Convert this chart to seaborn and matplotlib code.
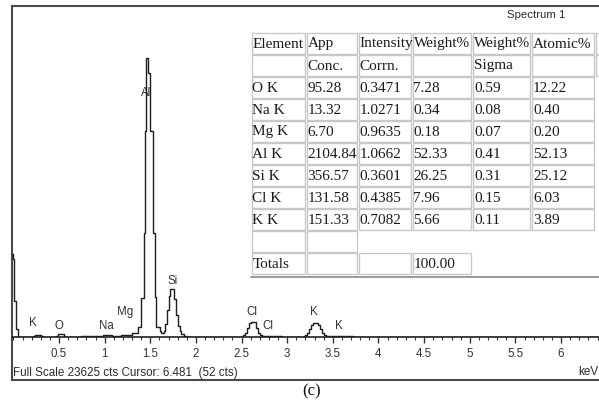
import matplotlib
matplotlib.use("Agg")
import matplotlib.pyplot as plt
from matplotlib.patches import Rectangle
from matplotlib.lines import Line2D
from matplotlib.ticker import FixedLocator, MultipleLocator, FormatStrFormatter
import seaborn as sns

zero_kev = [-0.02, 0.0, 0.01, 0.025, 0.05]
zero_cts = [5940, 5580, 2580, 570, 0]
low_kev = [0.22, 0.24, 0.30, 0.32, 0.47, 0.49, 0.55, 0.57, 0.74, 0.98, 1.00, 1.06, 1.08, 1.18, 1.24, 1.30, 1.34]
low_cts = [70, 150, 70, 0, 90, 180, 90, 0, 60, 110, 170, 110, 80, 120, 170, 250, 320]
al_kev = [1.365, 1.398, 1.428, 1.442, 1.453, 1.475, 1.497, 1.530, 1.548, 1.562, 1.606, 1.622]
al_cts = [714, 2785, 7426, 14700, 19920, 18850, 14700, 7426, 2856, 714, 430, 290]
si_kev = [1.645, 1.66, 1.68, 1.70, 1.72, 1.74, 1.76, 1.78, 1.80, 1.82, 1.84, 1.87, 1.90]
si_cts = [430, 900, 1900, 2900, 3430, 3430, 2700, 1600, 800, 400, 200, 80, 0]
cl_kev = [2.52, 2.54, 2.56, 2.58, 2.60, 2.62, 2.64, 2.66, 2.68, 2.70, 2.72, 2.94]
cl_cts = [140, 290, 640, 1000, 1090, 1090, 1050, 640, 290, 140, 70, 0]
k_kev = [3.18, 3.20, 3.22, 3.24, 3.26, 3.28, 3.30, 3.32, 3.34, 3.36, 3.38, 3.40, 3.42, 3.44, 3.72, 6.45]
k_cts = [70, 140, 290, 570, 860, 1000, 1000, 1000, 860, 570, 290, 140, 70, 50, 0, 0]

full_scale = 23625
major_ticks = [0.5, 1, 1.5, 2, 2.5, 3, 3.5, 4, 4.5, 5, 5.5, 6]

peak_labels = ["K", "O", "Na", "Mg", "Al", "Si", "Cl", "Cl", "K", "K"]
label_kev = [0.215, 0.50, 1.015, 1.223, 1.45, 1.745, 2.611, 2.793, 3.293, 3.567]
label_cts = [1020, 785, 785, 1790, 17400, 4020, 1790, 785, 1790, 785]

# quantification table
header = ["Element", "App", "Intensity", "Weight%", "Weight%", "Atomic%", ""]
subheader = ["", "Conc.", "Corrn.", "", "Sigma", "", ""]
elements = ["O K", "Na K", "Mg K", "Al K", "Si K", "Cl K", "K K"]
app_conc = [95.28, 13.32, 6.70, 2104.84, 356.57, 131.58, 151.33]
intensity_corrn = [0.3471, 1.0271, 0.9635, 1.0662, 0.3601, 0.4385, 0.7082]
weight_pct = [7.28, 0.34, 0.18, 52.33, 26.25, 7.96, 5.66]
weight_sigma = [0.59, 0.08, 0.07, 0.41, 0.31, 0.15, 0.11]
atomic_pct = [12.22, 0.40, 0.20, 52.13, 25.12, 6.03, 3.89]
total_weight = 100.00

W, H = 599, 408
sns.set_theme(style="white")
plt.rcParams['font.family'] = ['Liberation Sans', 'DejaVu Sans']
serif = ["Liberation Serif", "DejaVu Serif"]


def fx(x):
    return x / W


def fy(y):
    return 1 - y / H


fig = plt.figure(figsize=(W / 100, H / 100), dpi=100)
fig.patch.set_facecolor("white")

# outer frame of the screenshot
frame = fig.add_axes([fx(12.3), fy(380), 1.0, fy(6) - fy(380)])
frame.set_xticks([])
frame.set_yticks([])
frame.patch.set_alpha(0)
for s in ["left", "top", "bottom"]:
    frame.spines[s].set_color("#4a4a4a")
    frame.spines[s].set_linewidth(1.5)
frame.spines["right"].set_visible(False)

# spectrum axes
ax = fig.add_axes([fx(12.3), fy(337), fx(599) - fx(12.3), fy(6) - fy(337)])
ax.patch.set_alpha(0)
kev = zero_kev + low_kev + al_kev + si_kev + cl_kev + k_kev
cts = zero_cts + low_cts + al_cts + si_cts + cl_cts + k_cts
sns.lineplot(x=kev, y=cts, ax=ax, estimator=None, sort=False,
             drawstyle="steps-post", color="#1e1e1e", linewidth=1.0, zorder=3)
for s in ["left", "top", "right"]:
    ax.spines[s].set_visible(False)
ax.spines["bottom"].set_color("#222222")
ax.spines["bottom"].set_linewidth(1.2)
ax.set_yticks([])
ax.xaxis.set_major_locator(FixedLocator(major_ticks))
ax.xaxis.set_minor_locator(MultipleLocator(0.1))
ax.xaxis.set_major_formatter(FormatStrFormatter("%g"))
ax.tick_params(axis="x", which="major", direction="out", length=4.5, width=1,
               color="#333333", pad=3.5, labelsize=8.3, labelcolor="#333333", bottom=True)
ax.tick_params(axis="x", which="minor", direction="out", length=2.2, width=0.8,
               color="#333333", bottom=True)
ax.set_xlim(-0.012, 6.416)
ax.set_ylim(0, full_scale)

for lab, xe, yc in zip(peak_labels, label_kev, label_cts):
    ax.text(xe, yc, lab, ha="center", va="center", fontsize=8.3, color="#333333", zorder=2)

fig.text(fx(12.8), fy(373), "Full Scale 23625 cts Cursor: 6.481  (52 cts)",
         ha="left", va="center", fontsize=8.4, color="#2a2a2a")
fig.text(fx(578), fy(372), "keV", ha="left", va="center", fontsize=8.4, color="#2a2a2a")
fig.text(fx(507), fy(15), "Spectrum 1", ha="left", va="center", fontsize=8.2, color="#2a2a2a")
fig.text(fx(312), fy(391), "(c)", ha="center", va="center", fontsize=12,
         family=serif, color="#111111")

# table overlay
col_edges = [251, 306, 358, 412, 472.5, 531.5, 595, 625]
row_top, row_h = 33, 22
fig.add_artist(Rectangle((fx(250), fy(277)), fx(599) - fx(250), fy(31) - fy(277),
                         transform=fig.transFigure, facecolor="white", edgecolor="none", zorder=5))

rows = [header, subheader]
for i, el in enumerate(elements):
    rows.append([el, f"{app_conc[i]:.2f}", f"{intensity_corrn[i]:.4f}", f"{weight_pct[i]:.2f}",
                 f"{weight_sigma[i]:.2f}", f"{atomic_pct[i]:.2f}"])
rows.append(["", ""])
rows.append(["Totals", "", "", f"{total_weight:.2f}"])

for r, row in enumerate(rows):
    top = row_top + r * row_h
    for c, txt in enumerate(row):
        x0, x1 = col_edges[c], col_edges[c + 1]
        fig.add_artist(Rectangle((fx(x0 + 0.5), fy(top + row_h - 1)), fx(x1 - x0 - 2), fy(top) - fy(top + row_h - 1),
                                 transform=fig.transFigure, facecolor="none",
                                 edgecolor="#c8c8c8", linewidth=1.0, zorder=6))
        if txt:
            fig.text(fx(x0 + 1.5), fy(top + row_h / 2), txt, ha="left", va="center",
                     fontsize=11, family=serif, color="#1a1a1a", zorder=7)

fig.add_artist(Line2D([fx(251), fx(599)], [fy(276.5), fy(276.5)], transform=fig.transFigure,
                      color="#9a9a9a", linewidth=1.4, zorder=6))

fig.savefig("out.png", dpi=100)
